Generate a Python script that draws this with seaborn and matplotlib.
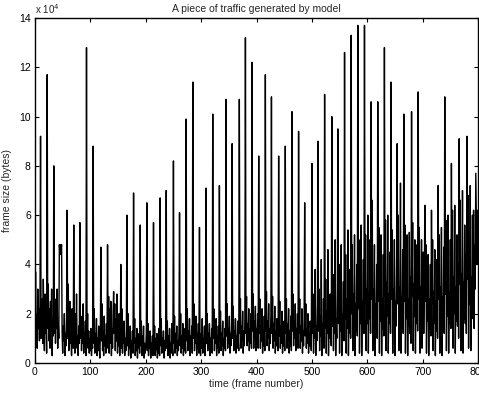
import numpy as np
import pandas as pd
import matplotlib
matplotlib.use("Agg")
import matplotlib.pyplot as plt
import seaborn as sns

# frame sizes in kB (x1000 bytes), 100 frames per segment
seg0 = [8, 37, 12, 20, 6, 30, 14, 22, 9, 25,
        92,
        10, 18, 26, 8, 34, 15, 5, 28, 12, 20, 4,
        117,
        14, 32, 9, 22, 6, 25, 13, 30, 3, 18, 11,
        80,
        12, 26, 8, 20, 14, 30, 6, 16, 10,
        48, 44, 48, 46, 48,
        12, 4, 15, 9, 20, 3, 12, 7, 18,
        62,
        10, 32, 5, 14, 25, 8, 12, 3, 22, 9, 6,
        56,
        12, 4, 20, 9, 28, 6, 11, 3, 15, 8,
        57,
        10, 19, 5, 14, 8, 24, 4, 12, 7, 17, 3,
        128,
        9, 20, 6, 13, 4, 10]
seg1 = [5, 14, 3, 9, 6,
        88,
        8, 22, 4, 12, 6, 18, 3, 10, 5, 15, 7, 2, 11,
        47,
        9, 24, 5, 13, 3, 19, 7, 11, 4, 16, 6,
        48,
        10, 27, 4, 22, 8, 25, 3, 14, 6, 20,
        29,
        12, 24, 5, 18, 9, 28, 4, 15, 7, 20, 3, 11,
        40,
        6, 22, 4, 12, 8, 17, 3, 10, 5, 14,
        60,
        7, 20, 3, 11, 6, 15, 2, 9, 5, 13, 4,
        69,
        8, 18, 3, 10, 5, 14, 2, 9, 6, 12, 4,
        56,
        7, 17, 3, 11, 5, 15, 2, 8, 4]
seg2 = [6, 12,
        65,
        5, 16, 3, 9, 6, 13, 2, 8, 4, 11, 3,
        57,
        6, 15, 3, 10, 5, 12, 2, 8, 4, 14, 3,
        67,
        7, 18, 4, 10, 6, 13, 2, 9, 5, 12,
        70,
        6, 17, 3, 11, 5, 14, 2, 8, 4, 16, 6, 3,
        82,
        8, 19, 4, 12, 6, 15, 3, 9, 5, 13,
        61,
        7, 20, 4, 11, 6, 16, 3, 10, 5, 14, 4,
        99,
        9, 22, 5, 13, 7, 18, 3, 11, 6, 15, 4,
        114,
        10, 24, 5, 14, 8, 19, 3, 12, 6, 16, 4,
        55,
        8, 3]
seg3 = [12, 6, 18, 4, 10, 7, 15, 3, 9,
        71,
        8, 20, 5, 12, 7, 16, 3, 10, 6, 14, 4,
        101,
        10, 22, 5, 13, 8, 18, 3, 11, 6, 15, 4,
        72,
        9, 21, 5, 12, 7, 17, 3, 10, 6, 14, 5,
        107,
        11, 24, 6, 14, 8, 19, 4, 12, 7, 16,
        89,
        10, 23, 5, 13, 8, 18, 4, 11, 6, 17, 9, 5,
        107,
        12, 26, 6, 15, 9, 21, 4, 13, 7, 18,
        132,
        12, 27, 7, 16, 9, 22, 5, 14, 8, 20, 6,
        122,
        13, 28, 6, 17, 10, 23, 5]
seg4 = [14, 8, 20, 6,
        84,
        12, 26, 6, 15, 9, 22, 4, 13, 7, 19, 5,
        117,
        13, 29, 7, 17, 10, 24, 5, 14, 8, 20,
        108,
        12, 27, 6, 16, 9, 23, 4, 13, 7, 18, 10, 5,
        84,
        11, 25, 6, 15, 8, 21, 4, 12, 7, 17, 5,
        88,
        12, 26, 6, 16, 9, 22, 4, 13, 7, 19, 5,
        102,
        13, 28, 7, 17, 10, 24, 5, 14, 8, 20, 6,
        94,
        12, 26, 6, 15, 9, 22, 4, 13, 7, 18,
        65,
        11, 24, 6, 14, 8, 20, 4, 12, 7, 17, 9, 5]
seg5 = [81,
        12, 28, 4, 18, 10, 38, 3, 15, 9, 24,
        90,
        13, 30, 5, 19, 11, 42, 3, 16, 9, 26, 6,
        109,
        14, 34, 4, 21, 12, 46, 3, 17, 10, 28, 14, 7,
        100,
        15, 36, 5, 22, 12, 50, 3, 18, 10, 30,
        95,
        16, 40, 4, 24, 13, 48, 3, 20, 11, 33, 9,
        126,
        18, 44, 4, 26, 14, 54, 3, 22, 12, 38, 10,
        133,
        20, 48, 5, 28, 15, 52, 3, 24, 13, 40, 11,
        137,
        22, 50, 4, 30, 16, 56, 3, 25, 14, 42, 12,
        137,
        24, 52, 5, 30]
seg6 = [16, 60, 4, 28, 18, 50, 12,
        106,
        26, 66, 5, 30, 18, 48, 3, 24, 15, 40, 10,
        106,
        25, 55, 4, 32, 17, 52, 3, 26, 14, 44, 11,
        128,
        27, 58, 5, 33, 19, 60, 4, 28, 16, 45, 12,
        114,
        26, 54, 4, 30, 18, 50, 3, 25, 15, 42,
        89,
        24, 60, 5, 31, 17, 73, 4, 27, 14, 46, 12,
        101,
        25, 56, 4, 30, 18, 52, 3, 26, 15, 53, 12, 35, 8,
        102,
        27, 57, 5, 32, 19, 50, 4, 28, 16, 48, 13,
        110,
        26, 55, 4, 31, 18, 50, 6]
seg7 = [28, 45, 12, 30,
        64,
        25, 48, 4, 30, 17, 44, 3, 26, 14, 40, 11,
        62,
        24, 50, 5, 29, 16, 46, 3, 25, 13, 42, 10,
        72,
        26, 52, 4, 31, 18, 55, 3, 27, 15, 47, 12,
        108,
        28, 58, 5, 33, 19, 60, 4, 29, 16, 50, 14,
        81,
        30, 62, 6, 35, 20, 64, 4, 31, 17, 52, 15, 40, 10,
        91,
        32, 66, 5, 36, 22, 70, 4, 33, 18, 56, 16, 44, 12,
        92,
        34, 68, 6, 38, 24, 72, 5, 35, 20, 60, 18, 62, 14, 48, 30,
        77,
        58, 40, 62]

ytick_vals = [0, 2, 4, 6, 8, 10, 12, 14]
xtick_vals = [0, 100, 200, 300, 400, 500, 600, 700, 800]

sizes_k = seg0 + seg1 + seg2 + seg3 + seg4 + seg5 + seg6 + seg7
df = pd.DataFrame({"frame": np.arange(len(sizes_k)),
                   "bytes": np.array(sizes_k, dtype=float) * 1000.0})

sns.set_style("ticks")
plt.rcParams["font.family"] = ["Liberation Sans", "DejaVu Sans"]

fig = plt.figure(figsize=(4.79, 3.93), dpi=100)
ax = fig.add_axes([35 / 479, 30 / 393, 443 / 479, 345 / 393])
sns.lineplot(data=df, x="frame", y="bytes", ax=ax, color="black",
             linewidth=1.0, estimator=None)

ax.set_xlim(0, 800)
ax.set_ylim(0, 14e4)
ax.set_xticks(xtick_vals)
ax.set_xticklabels([str(v) for v in xtick_vals])
ax.set_yticks([v * 1e4 for v in ytick_vals])
ax.set_yticklabels([str(v) for v in ytick_vals])
ax.tick_params(direction="in", length=3, width=0.8, labelsize=7.5,
               top=True, right=True, pad=3, colors="black")
for s in ax.spines.values():
    s.set_visible(True)
    s.set_linewidth(1.0)
    s.set_color("black")

ax.set_xlabel("time (frame number)", fontsize=7.5, labelpad=1)
ax.set_ylabel("frame size (bytes)", fontsize=7.5, labelpad=5)
ax.set_title("A piece of traffic generated by model", fontsize=7.5, pad=4)
ax.text(0.0, 1.005, r"x 10$^4$", transform=ax.transAxes, fontsize=7,
        ha="left", va="bottom")

fig.savefig("out.png", dpi=100)
